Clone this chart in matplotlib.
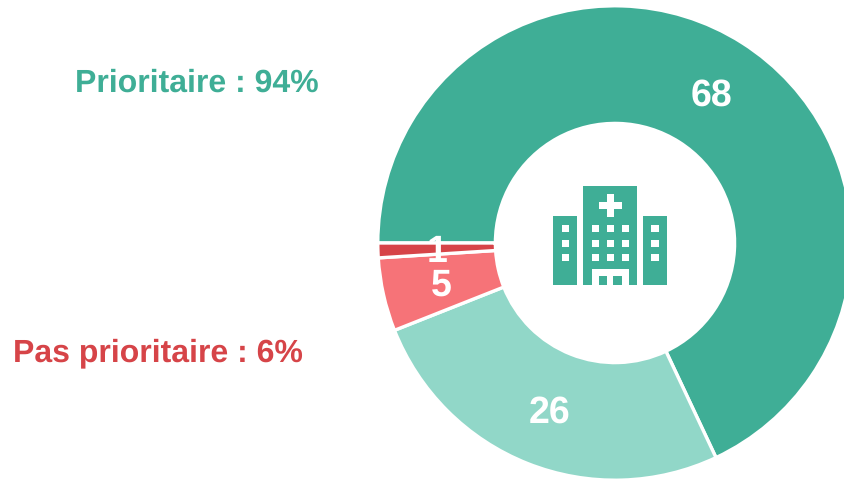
import matplotlib
matplotlib.use("Agg")
import matplotlib.pyplot as plt
from matplotlib.patches import Rectangle

plt.rcParams['font.family'] = ['Liberation Sans', 'DejaVu Sans']
plt.rcParams['text.hinting'] = 'no_hinting'

# data
values = [68, 26, 5, 1]
colors = ['#3FAE96', '#91D7C8', '#F67378', '#D64448']
group_labels = ['Prioritaire : 94%', 'Pas prioritaire : 6%']
group_colors = ['#3FAE96', '#D64448']

W, H = 844, 479
GREEN = '#3FAE96'

fig = plt.figure(figsize=(W / 100, H / 100), dpi=100)
ax = fig.add_axes([0, 0, 1, 1])

# axes units = pixels, y going up
cx, cy = 615, H - 243
R, r = 237.2, 119.6

wedges, texts, autotexts = ax.pie(
    values, colors=colors, startangle=180, counterclock=False,
    center=(cx, cy), radius=R,
    wedgeprops=dict(width=R - r, edgecolor='white', linewidth=2.4),
    autopct=lambda p: f'{p:.0f}', pctdistance=0.753,
    textprops=dict(color='white', fontsize=27, fontweight='bold'),
)
for t in autotexts:
    t.set_verticalalignment('center')
    x, y = t.get_position()
    t.set_position((x + 0.5, y - 4))  # sits a bit lower in the original

ax.set_xlim(0, W)
ax.set_ylim(0, H)
ax.set_aspect('equal')
ax.axis('off')

ax.text(196.5, H - 83, group_labels[0], color=group_colors[0], fontsize=23,
        fontweight='bold', ha='center', va='center')
ax.text(157.5, H - 353, group_labels[1], color=group_colors[1], fontsize=23,
        fontweight='bold', ha='center', va='center')


def box(x0, y0, x1, y1, c):
    # corners given from the top left of the picture
    ax.add_patch(Rectangle((x0, H - y1), x1 - x0, y1 - y0, fc=c, ec='none', zorder=5))


# hospital icon
box(553.3, 216, 577, 285, GREEN)
box(583.3, 186, 637, 285, GREEN)
box(643.3, 216, 666.7, 285, GREEN)
box(599, 202.3, 621.7, 209, 'white')
box(606.7, 194, 613.7, 217, 'white')
for wy in [225, 239.7, 254.3]:
    for wx in [591.7, 606.7, 621.7]:
        box(wx, wy, wx + 7.6, wy + 6.8, 'white')
    box(561.7, wy, 569.3, wy + 6.8, 'white')
    box(651.3, wy, 659, wy + 6.8, 'white')
box(592, 269.3, 628.7, 285, 'white')
box(599, 276, 607, 285, GREEN)
box(613, 276, 621.7, 285, GREEN)

fig.savefig('out.png', dpi=100)
